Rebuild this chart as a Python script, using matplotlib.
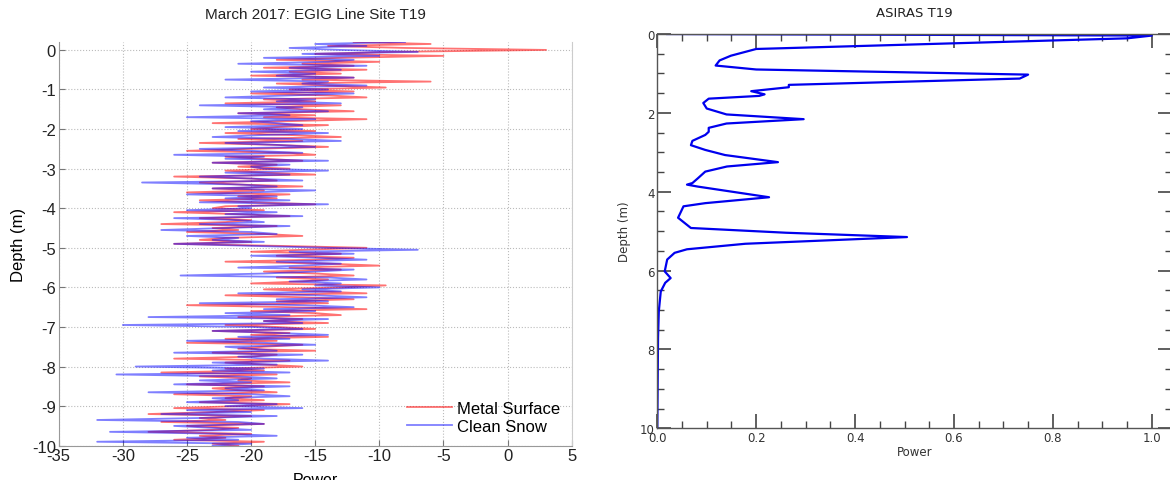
import numpy as np
import matplotlib
matplotlib.use("Agg")
import matplotlib.pyplot as plt
from matplotlib.ticker import MultipleLocator

plt.rcParams["axes.unicode_minus"] = False

# ---- left panel: radar power profiles (dB), sampled every 0.05 m from 0.2 m to -10 m
depth_left = np.linspace(0.2, -10.0, 205)

metal_surface = [
    -12, -6, -14, -8,
    3, -9, -15, -5, -13, -18, -10, -16, -12, -19, -11, -17, -13, -20, -12, -16, -6, -18, -14, -9.5,
    -17, -12, -20, -14, -11, -19, -15, -22, -13, -18, -16, -12, -21, -15, -19, -11, -17, -23, -14, -18,
    -20, -15, -22, -17, -13, -21, -16, -24, -18, -14, -20, -25, -17, -15, -22, -19, -16, -23, -18, -21,
    -17, -22, -19, -15, -26, -20, -18, -24, -21, -16, -23, -19, -25, -17, -21, -18, -24, -20, -15, -22,
    -23, -19, -26, -21, -17, -24, -20, -22, -27, -18, -23, -21, -25, -19, -16, -22, -24, -20, -26, -18,
    -11, -16, -20, -13, -18, -12, -15, -22, -14, -10, -17, -13, -19, -15, -12, -18, -14, -16, -20, -9.5,
    -13, -19, -15, -11, -22, -16, -12, -18, -14, -25, -17, -11, -20, -15, -13, -21, -16, -19, -14, -22,
    -18, -15, -23, -17, -20, -14, -22, -18, -25, -16, -19, -21, -15, -23, -18, -20, -26, -17, -22, -19,
    -16, -22, -19, -27, -18, -24, -20, -21, -17, -25, -19, -23, -21, -18, -26, -20, -22, -19, -24, -17,
    -21, -26, -19, -23, -28, -20, -24, -22, -27, -19, -25, -21, -23, -28, -20, -24, -22, -26, -19, -23,
    -21,
]

clean_snow = [
    -8, -15, -11, -17,
    -13, -7, -16, -10, -19, -12, -14, -21, -11, -17, -13, -20, -15, -18, -12, -22, -14, -16, -11, -19,
    -14, -20, -12, -17, -22, -15, -18, -13, -24, -16, -19, -14, -21, -17, -25, -15, -20, -18, -16, -22,
    -16, -21, -14, -19, -23, -17, -13, -22, -18, -15, -24, -20, -16, -26, -19, -22, -14, -23, -17, -20,
    -19, -14, -22, -17, -24, -20, -16, -28.5, -21, -18, -23, -15, -20, -25, -18, -22, -17, -24, -14, -21,
    -20, -25, -18, -22, -16, -26, -21, -19, -24, -17, -22, -27, -20, -18, -25, -21, -23, -19, -26, -20,
    -14, -7, -17, -12, -20, -15, -11, -18, -13, -16, -21, -12, -15, -19, -25.5, -14, -11, -17, -13, -15,
    -10, -16, -13, -21, -15, -11, -18, -14, -24, -16, -12, -19, -15, -22, -17, -28, -14, -19, -16, -30,
    -20, -16, -23, -18, -14, -21, -17, -25, -19, -15, -22, -20, -18, -26, -16, -21, -19, -14, -23, -18,
    -29, -19, -23, -17, -30.5, -21, -18, -24, -20, -26, -17, -22, -19, -28, -20, -17, -23, -21, -25, -18,
    -22, -16, -25, -20, -27, -18, -24, -32, -21, -19, -26, -23, -20, -31, -22, -18, -25, -21, -32, -20,
    -23,
]

# ---- right panel: ASIRAS normalised power vs depth
asiras_depth = [0.0, 0.04, 0.11, 0.38, 0.55, 0.67, 0.8, 0.9, 1.03, 1.13, 1.29, 1.35, 1.45, 1.53,
                1.57, 1.64, 1.75, 1.89, 2.04, 2.16, 2.27, 2.38, 2.48, 2.56, 2.71, 2.82, 2.94, 3.07,
                3.25, 3.36, 3.49, 3.66, 3.78, 3.82, 3.87, 4.14, 4.29, 4.37, 4.66, 4.92, 5.04, 5.15,
                5.32, 5.46, 5.55, 5.72, 6.02, 6.19, 6.31, 6.53, 7.04, 7.7, 10.0]
asiras_power = [0.02, 1.0, 0.95, 0.2, 0.149, 0.126, 0.118, 0.2, 0.75, 0.733, 0.266, 0.266, 0.19, 0.217,
                0.206, 0.104, 0.093, 0.1, 0.14, 0.296, 0.14, 0.104, 0.104, 0.097, 0.071, 0.068, 0.097, 0.137,
                0.244, 0.141, 0.097, 0.082, 0.071, 0.06, 0.082, 0.226, 0.097, 0.053, 0.042, 0.068, 0.26, 0.505,
                0.178, 0.06, 0.035, 0.02, 0.015, 0.027, 0.016, 0.007, 0.003, 0.0015, 0.0]

W, H = 1170, 481
fig = plt.figure(figsize=(W / 100, H / 100), dpi=100)

# ---------------- left panel (MATLAB look)
helv = ["Liberation Sans", "DejaVu Sans"]
ax1 = fig.add_axes([58.7 / W, 1 - 446.7 / H, (571.7 - 58.7) / W, (446.7 - 43) / H])
ax1.plot(metal_surface, depth_left, color="red", lw=1.3, alpha=0.55, label="Metal Surface")
ax1.plot(clean_snow, depth_left, color="blue", lw=1.3, alpha=0.5, label="Clean Snow")
ax1.set_xlim(-35, 5)
ax1.set_ylim(-10, 0.2)
ax1.set_xticks(np.arange(-35, 6, 5))
ax1.set_yticks(np.arange(-10, 1, 1))
ax1.grid(True, linestyle=":", color="#bbbbbb", linewidth=0.8)
ax1.tick_params(direction="in", length=4, color="#777777", labelsize=12, pad=2)
for lab in ax1.get_xticklabels() + ax1.get_yticklabels():
    lab.set_family(helv)
    lab.set_color("#222222")
ax1.spines["top"].set_visible(False)
ax1.spines["right"].set_color("#cccccc")
ax1.spines["left"].set_color("#999999")
ax1.spines["bottom"].set_color("#999999")
ax1.set_title("March 2017: EGIG Line Site T19", family=helv, fontsize=11, color="#222222", pad=17)
ax1.set_xlabel("Power", family=helv, fontsize=11.5, labelpad=6)
ax1.set_ylabel("Depth (m)", family=helv, fontsize=12, labelpad=4)
leg = ax1.legend(loc="lower right", frameon=False, prop={"family": helv, "size": 12},
                 handlelength=2.7, handletextpad=0.3, borderaxespad=0.3, labelspacing=0.2)

# ---------------- right panel
ax2 = fig.add_axes([657.3 / W, 1 - 429.3 / H, 514.2 / W, (429.3 - 35) / H])
ax2.plot(asiras_power, asiras_depth, color="#0000ee", lw=1.6)
ax2.set_xlim(0, 1.04)
ax2.set_ylim(10, 0)
ax2.xaxis.set_major_locator(MultipleLocator(0.2))
ax2.xaxis.set_minor_locator(MultipleLocator(0.05))
ax2.yaxis.set_major_locator(MultipleLocator(2))
ax2.yaxis.set_minor_locator(MultipleLocator(0.5))
ax2.xaxis.set_major_formatter(plt.FormatStrFormatter("%.1f"))
ax2.tick_params(which="both", direction="in", top=True, right=True, color="#444444",
                labelsize=8.5, labelcolor="#333333", pad=2)
ax2.tick_params(which="major", length=10, width=1.2)
ax2.tick_params(which="minor", length=5, width=1.0)
for s in ax2.spines.values():
    s.set_color("#555555")
    s.set_linewidth(1.0)
ax2.set_title("ASIRAS T19", fontsize=9.5, color="#222222", pad=13)
ax2.set_xlabel("Power", fontsize=8.5, color="#333333", labelpad=1)
ax2.set_ylabel("Depth (m)", fontsize=8.5, color="#333333", labelpad=6)

fig.savefig("out.png", dpi=100)
